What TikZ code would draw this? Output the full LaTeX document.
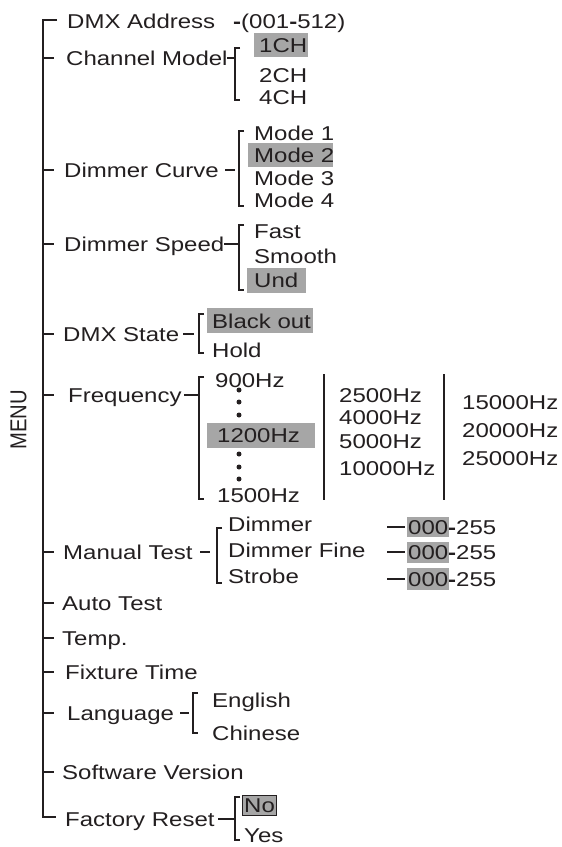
\documentclass[tikz,border=0pt]{standalone}
\usepackage{fontspec}
\setmainfont{Liberation Sans}[FakeStretch=1.2]
\newfontfamily\menufont{Liberation Sans}[FakeStretch=0.88]
\definecolor{ink}{HTML}{231F20}
\definecolor{hl}{HTML}{A6A6A6}
\tikzset{
  lbl/.style={anchor=west, inner sep=0pt, text height=14pt, text depth=0pt, text=ink, font=\fontsize{20}{24}\selectfont},
  ln/.style={draw=ink, line width=1.4pt},
  bk/.style={draw=ink, line width=1.2pt},
  hlbox/.style={fill=hl},
  dotmark/.style={circle, fill=ink, inner sep=0pt, minimum size=5pt},
}
\newcommand{\brk}[3]{\draw[bk] (#1+5,#2) -- (#1,#2) -- (#1,#3) -- (#1+5,#3);}
\begin{document}
\begin{tikzpicture}[x=1pt,y=-1pt]
\useasboundingbox[fill=white] (0,0) rectangle (562,847);
% highlights
\fill[hlbox] (254,33) rectangle (308,57);
\fill[hlbox] (248,143) rectangle (333,167);
\fill[hlbox] (247,268) rectangle (306,293);
\fill[hlbox] (207,308) rectangle (313,333);
\fill[hlbox] (207,423) rectangle (315,448);
\fill[hlbox] (407,517) rectangle (449,537);
\fill[hlbox] (407,542) rectangle (449,563);
\fill[hlbox] (407,568) rectangle (449,590);
\filldraw[fill=hl, draw=ink, line width=0.8pt] (242,795) rectangle (276,815);

% MENU
\node[rotate=90, text=ink, font=\menufont\fontsize{23}{26}\selectfont, inner sep=0pt] (menu) at (18.5,420) {MENU};

% main spine
\coordinate (sTop) at (43,20);
\coordinate (sBot) at (43,817);
\draw[ln] (57,20) -- (sTop) -- (sBot) -- (56,817);
\foreach \yy in {58,170,244,334,395,552,603,638,672,713,772}
  \draw[ln] (43,\yy) -- (54,\yy);

% level 1 labels
\node[lbl] (dmx) at (67,21) {DMX Address\hspace{18pt}{\bfseries -}(001{\bfseries -}512)};
\node[lbl] (chm) at (66,58) {Channel Model};
\node[lbl] (dcu) at (64,170) {Dimmer Curve};
\node[lbl] (dsp) at (64,244) {Dimmer Speed};
\node[lbl] (dst) at (63,334) {DMX State};
\node[lbl] (frq) at (68,395) {Frequency};
\node[lbl] (mtt) at (63,552) {Manual Test};
\node[lbl] (att) at (62,603) {Auto Test};
\node[lbl] (tmp) at (62,638) {Temp.};
\node[lbl] (fxt) at (65,672) {Fixture Time};
\node[lbl] (lng) at (67,713) {Language};
\node[lbl] (swv) at (62,772) {Software Version};
\node[lbl] (frs) at (65,819) {Factory Reset};

% Channel Model
\coordinate (bcm) at (235,58);
\draw[ln] (227,58) -- (bcm);
\brk{235}{48}{100}
\node[lbl] (ch1) at (259,45) {1CH};
\node[lbl] (ch2) at (259,75) {2CH};
\node[lbl] (ch4) at (259,97) {4CH};

% Dimmer Curve
\coordinate (bdc) at (235,170);
\draw[ln] (225,170) -- (bdc);
\brk{239}{131}{206}
\node[lbl] (md1) at (254,133) {Mode 1};
\node[lbl] (md2) at (254,155) {Mode 2};
\node[lbl] (md3) at (254,178) {Mode 3};
\node[lbl] (md4) at (254,200) {Mode 4};

% Dimmer Speed
\coordinate (bds) at (239,244);
\draw[ln] (224,244) -- (bds);
\brk{239}{225}{290}
\node[lbl] (fst) at (254,231) {Fast};
\node[lbl] (smt) at (254,256) {Smooth};
\node[lbl] (und) at (254,280) {Und};

% DMX State
\coordinate (bst) at (194,334);
\draw[ln] (183,334) -- (bst);
\brk{199}{314}{353}
\node[lbl] (blk) at (212,321) {Black out};
\node[lbl] (hld) at (212,350) {Hold};

% Frequency
\coordinate (bfq) at (199,395);
\draw[ln] (184,395) -- (bfq);
\brk{199}{377}{499}
\node[lbl] (f900) at (215,380) {900Hz};
\node[lbl] (f1200) at (217,435) {1200Hz};
\node[lbl] (f1500) at (217,495) {1500Hz};
\foreach \yy [count=\i] in {390,402,415,454,467,479}
  \node[dotmark] (dot\i) at (239,\yy) {};
\draw[ln] (324,374) -- (324,500);
\node[lbl] (f2500) at (339,395) {2500Hz};
\node[lbl] (f4000) at (339,417) {4000Hz};
\node[lbl] (f5000) at (339,441) {5000Hz};
\node[lbl] (f10000) at (339,468) {10000Hz};
\draw[ln] (444,374) -- (444,500);
\node[lbl] (f15000) at (462,402) {15000Hz};
\node[lbl] (f20000) at (462,430) {20000Hz};
\node[lbl] (f25000) at (462,458) {25000Hz};

% Manual Test
\coordinate (bmt) at (210,552);
\draw[ln] (200,552) -- (bmt);
\brk{217}{528}{583}
\node[lbl] (mdim) at (228,524) {Dimmer};
\node[lbl] (mdfn) at (228,550) {Dimmer Fine};
\node[lbl] (mstr) at (228,576) {Strobe};
\node[lbl] (v1) at (408,527) {000{\bfseries -}255};
\node[lbl] (v2) at (408,552) {000{\bfseries -}255};
\node[lbl] (v3) at (408,579) {000{\bfseries -}255};
\draw[ln] (387,527) -- ([xshift=-3pt]v1.west);
\draw[ln] (387,552) -- ([xshift=-3pt]v2.west);
\draw[ln] (387,579) -- ([xshift=-3pt]v3.west);

% Language
\coordinate (bln) at (189,713);
\draw[ln] (180,713) -- (bln);
\brk{193}{693}{733}
\node[lbl] (eng) at (212,700) {English};
\node[lbl] (chn) at (212,733) {Chinese};

% Factory Reset
\coordinate (bfr) at (235,819);
\draw[ln] (218,819) -- (bfr);
\brk{235}{797}{840}
\node[lbl] (fno) at (244,805) {No};
\node[lbl] (fyes) at (244,835) {Yes};
\end{tikzpicture}
\end{document}
